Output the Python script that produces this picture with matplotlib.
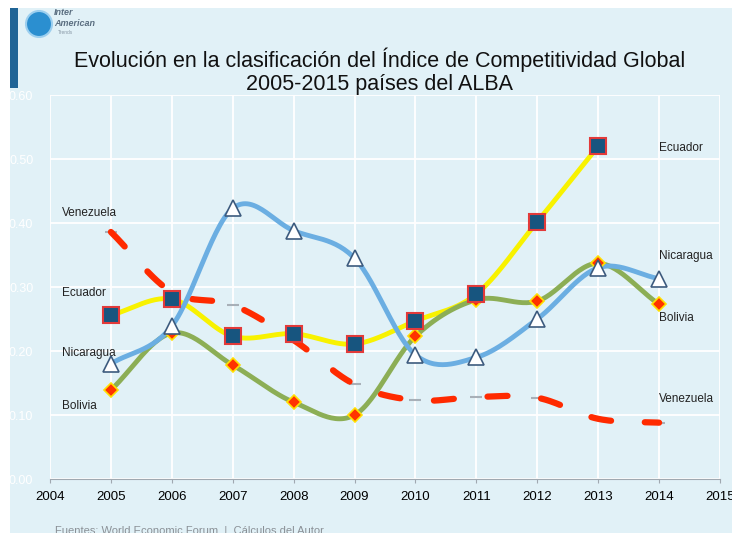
import numpy as np
import matplotlib
matplotlib.use("Agg")
import matplotlib.pyplot as plt
from matplotlib.patches import Rectangle, Ellipse

plt.rcParams['font.family'] = ['Liberation Sans', 'DejaVu Sans']

years = [2005, 2006, 2007, 2008, 2009, 2010, 2011, 2012, 2013, 2014]
ecuador = [0.256, 0.281, 0.223, 0.227, 0.211, 0.247, 0.289, 0.402, 0.520]
nicaragua = [0.180, 0.239, 0.423, 0.388, 0.345, 0.194, 0.190, 0.250, 0.330, 0.313]
bolivia = [0.139, 0.228, 0.178, 0.120, 0.100, 0.223, 0.280, 0.278, 0.337, 0.273]
venezuela = [0.386, 0.292, 0.272, 0.217, 0.148, 0.123, 0.128, 0.127, 0.094, 0.088]
xticks = list(range(2004, 2016))
yticks = [0.0, 0.1, 0.2, 0.3, 0.4, 0.5, 0.6]

title = "Evolución en la clasificación del Índice de Competitividad Global\n2005-2015 países del ALBA"
source = "Fuentes: World Economic Forum  |  Cálculos del Autor"


def smooth(x, y, n=30):
    # catmull-rom, similar to excel smoothed lines
    x = np.asarray(x, float)
    y = np.asarray(y, float)
    px = np.concatenate([[2 * x[0] - x[1]], x, [2 * x[-1] - x[-2]]])
    py = np.concatenate([[2 * y[0] - y[1]], y, [2 * y[-1] - y[-2]]])
    xs, ys = [], []
    t = np.linspace(0, 1, n)
    for i in range(1, len(px) - 2):
        for p, out in ((px, xs), (py, ys)):
            p0, p1, p2, p3 = p[i - 1], p[i], p[i + 1], p[i + 2]
            out.extend(0.5 * ((2 * p1) + (-p0 + p2) * t
                              + (2 * p0 - 5 * p1 + 4 * p2 - p3) * t ** 2
                              + (-p0 + 3 * p1 - 3 * p2 + p3) * t ** 3))
    return xs, ys


fig = plt.figure(figsize=(7.32, 5.33), dpi=100, facecolor='white')
bg = '#E1F1F7'
fig.patches.append(Rectangle((10 / 732, 0), 1, 1 - 8 / 533, transform=fig.transFigure,
                             facecolor=bg, edgecolor='none', zorder=-10))
fig.patches.append(Rectangle((10 / 732, 1 - 88 / 533), 8 / 732, 80 / 533, transform=fig.transFigure,
                             facecolor='#1F6496', edgecolor='none', zorder=-5))
# logo
fig.patches.append(Ellipse((39 / 732, 1 - 24 / 533), 26 / 732, 26 / 533, transform=fig.transFigure,
                           facecolor='#2B8FD0', edgecolor='#9CCFEF', lw=1.5, zorder=-4))
fig.text(54 / 732, 1 - 15 / 533, "Inter", fontsize=6.5, style='italic', color='#5A6E80', weight='bold')
fig.text(54 / 732, 1 - 26 / 533, "American", fontsize=6.5, style='italic', color='#5A6E80', weight='bold')
fig.text(58 / 732, 1 - 34 / 533, "Trends", fontsize=3.5, color='#8A9AA8')

ax = fig.add_axes([50 / 732, 1 - 479 / 533, 670 / 732, 384 / 533])
ax.set_facecolor(bg)
ax.set_xlim(2004, 2015)
ax.set_ylim(0, 0.6)
ax.set_xticks(xticks)
ax.set_yticks(yticks)
ax.set_yticklabels(['%.2f' % v for v in yticks])
ax.grid(True, color='white', lw=1.3, zorder=0)
ax.set_axisbelow(True)
for s in ['top', 'right', 'left']:
    ax.spines[s].set_visible(False)
ax.spines['bottom'].set_color('#A0A8B0')
ax.tick_params(axis='x', colors='#A0A8B0', length=3, labelsize=9.5, labelcolor='black', pad=6)
ax.tick_params(axis='y', length=0, labelsize=9, labelcolor='white', pad=12)

# venezuela
xs, ys = smooth(years, venezuela)
ax.plot(xs, ys, color='#FF2A00', lw=4.5, linestyle=(0, (3.2, 5.4)), solid_capstyle='round',
        dash_capstyle='round', zorder=2)
ax.plot(years, venezuela, linestyle='none', marker='_', markersize=9, color='#A8B0B8',
        markeredgewidth=1.5, zorder=1.9)

# ecuador
xs, ys = smooth(years[:len(ecuador)], ecuador)
ax.plot(xs, ys, color='#F8F200', lw=3.5, zorder=3)
ax.plot(years[:len(ecuador)], ecuador, linestyle='none', marker='s', markersize=11,
        markerfacecolor='#17557F', markeredgecolor='#E23A3A', markeredgewidth=1.5, zorder=6)

# bolivia
xs, ys = smooth(years, bolivia)
ax.plot(xs, ys, color='#8CAE55', lw=3.5, zorder=3)
ax.plot(years, bolivia, linestyle='none', marker='D', markersize=7.5,
        markerfacecolor='#FF3300', markeredgecolor='#FFE000', markeredgewidth=1.2, zorder=5)

# nicaragua
xs, ys = smooth(years, nicaragua)
ax.plot(xs, ys, color='#6BAEE2', lw=3.5, zorder=4)
ax.plot(years, nicaragua, linestyle='none', marker='^', markersize=11,
        markerfacecolor='white', markeredgecolor='#3D5B7E', markeredgewidth=1.2, zorder=7)

labels_left = [("Venezuela", 0.416), ("Ecuador", 0.290), ("Nicaragua", 0.197), ("Bolivia", 0.114)]
labels_right = [("Ecuador", 0.517), ("Nicaragua", 0.348), ("Bolivia", 0.252), ("Venezuela", 0.125)]
for name, yv in labels_left:
    ax.text(2004.2, yv, name, fontsize=8.5, va='center', ha='left', color='#222222')
for name, yv in labels_right:
    ax.text(2014.0, yv, name, fontsize=8.5, va='center', ha='left', color='#222222')

fig.text(380 / 732, 1 - 71 / 533, title, fontsize=15.5, ha='center', va='center',
         color='#111111', linespacing=1.15)
fig.text(55 / 732, 1 - 531 / 533, source, fontsize=8, color='#8A9096', va='center')

fig.savefig('out.png', dpi=100, facecolor=fig.get_facecolor())
